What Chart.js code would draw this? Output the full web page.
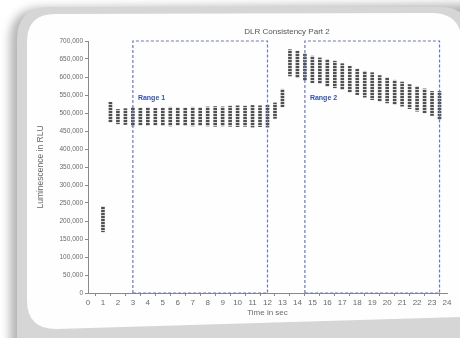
<!DOCTYPE html>
<html>
<head>
<meta charset="utf-8">
<script src="https://cdn.jsdelivr.net/npm/chart.js@4.4.1/dist/chart.umd.min.js"></script>
<style>
  html, body { margin: 0; padding: 0; background: #ffffff; }
  #wrap { position: relative; width: 460px; height: 338px; overflow: hidden; }
  #frame { position: absolute; left: 0; top: 0; }
  #c { position: absolute; left: 0; top: 0; }
</style>
</head>
<body>
<div id="wrap">
  <svg id="frame" width="460" height="338" viewBox="0 0 460 338">
    <defs>
      <filter id="blur" x="-20%" y="-20%" width="140%" height="140%">
        <feGaussianBlur stdDeviation="5"/>
      </filter>
    </defs>
    <rect x="0" y="0" width="460" height="338" fill="#ffffff"/>
    <path d="M 44 8 L 470 4 L 470 350 L 10 350 L 10 40 Q 10 8 44 8 Z" fill="#b5b5b5" filter="url(#blur)"/>
    <path d="M 50 7 L 440 7 Q 470 7 470 37 L 470 350 L 17 350 L 17 40 Q 17 7 50 7 Z" fill="#d6d6d6"/>
    <path d="M 55 14 L 432 13 Q 458 13 462 38 L 462 317 L 56 329 Q 27 329 27 300 L 27 42 Q 27 14 55 14 Z" fill="#fefefe"/>
  </svg>
  <canvas id="c" width="460" height="338"></canvas>
</div>
<script>
// ---- data ----
const times = [1, 1.5, 2, 2.5, 3, 3.5, 4, 4.5, 5, 5.5, 6, 6.5, 7, 7.5, 8, 8.5, 9, 9.5, 10, 10.5, 11, 11.5, 12, 12.5,
               13, 13.5, 14, 14.5, 15, 15.5, 16, 16.5, 17, 17.5, 18, 18.5, 19, 19.5, 20, 20.5, 21, 21.5, 22, 22.5, 23, 23.5];
const lowValues = [170000, 475000, 470000, 468000, 464000, 466000, 465000, 466000, 465000, 464000, 466000, 465000,
                   464000, 465000, 464000, 463000, 464000, 463000, 462000, 463000, 461000, 462000, 461000, 485000,
                   517000, 603000, 598000, 590000, 584000, 582000, 574000, 570000, 565000, 558000, 551000, 544000,
                   537000, 533000, 528000, 524000, 519000, 512000, 505000, 500000, 493000, 482000];
const highValues = [240000, 530000, 510000, 512000, 516000, 514000, 515000, 513000, 514000, 516000, 515000, 514000,
                    516000, 515000, 517000, 518000, 517000, 519000, 520000, 519000, 521000, 520000, 522000, 528000,
                    566000, 676000, 672000, 665000, 658000, 653000, 649000, 644000, 637000, 630000, 622000, 616000,
                    612000, 604000, 598000, 591000, 586000, 579000, 574000, 567000, 560000, 560000];
const range1 = [3, 12];
const range2 = [14.5, 23.5];
const rangeTop = 700000;
const rangeLabels = ['Range 1', 'Range 2'];
const xTickRange = [0, 24];
const yTickRange = [0, 700000];
const yTickStep = 50000;
const chartTitle = 'DLR Consistency Part 2';
const xTitle = 'Time in sec';
const yTitle = 'Luminescence in RLU';

// ---- build ----
const pc = document.createElement('canvas');
pc.width = 3; pc.height = 3;
const pctx = pc.getContext('2d');
pctx.fillStyle = '#d2d2d2'; pctx.fillRect(0, 0, 3, 3);
pctx.fillStyle = '#505050'; pctx.fillRect(0, 0, 3, 2);
const stripe = document.getElementById('c').getContext('2d').createPattern(pc, 'repeat');

const columnData = times.map((t, i) => ({ x: t, y: [lowValues[i], highValues[i]] }));
function box(r) {
  return [{ x: r[0], y: 0 }, { x: r[0], y: rangeTop }, { x: r[1], y: rangeTop }, { x: r[1], y: 0 }, { x: r[0], y: 0 }];
}

const FONT = "'Liberation Sans', 'DejaVu Sans', sans-serif";
const TXT = '#6a6a6a';

const annot = {
  id: 'annot',
  afterDatasetsDraw(chart) {
    const { ctx, scales: { x, y } } = chart;
    ctx.save();
    ctx.fillStyle = '#3553a6';
    ctx.font = "bold 7px " + FONT;
    ctx.textBaseline = 'middle';
    ctx.textAlign = 'left';
    ctx.fillText(rangeLabels[0], x.getPixelForValue(range1[0]) + 5, y.getPixelForValue(541000));
    ctx.fillText(rangeLabels[1], x.getPixelForValue(range2[0]) + 5, y.getPixelForValue(541000));
    ctx.fillStyle = '#555555';
    ctx.font = "8px " + FONT;
    ctx.textAlign = 'center';
    ctx.fillText(chartTitle, 287, 32);
    ctx.restore();
  }
};

new Chart(document.getElementById('c'), {
  type: 'bar',
  data: {
    datasets: [
      {
        type: 'bar',
        data: columnData,
        backgroundColor: stripe,
        borderWidth: 0,
        barThickness: 3,
        order: 2
      },
      {
        type: 'line',
        data: box(range1),
        borderColor: '#6b78b8',
        borderWidth: 1.2,
        borderDash: [3, 2],
        pointRadius: 0,
        fill: false,
        tension: 0,
        clip: 5,
        order: 1
      },
      {
        type: 'line',
        data: box(range2),
        borderColor: '#6b78b8',
        borderWidth: 1.2,
        borderDash: [3, 2],
        pointRadius: 0,
        fill: false,
        tension: 0,
        clip: 5,
        order: 1
      }
    ]
  },
  options: {
    responsive: false,
    animation: false,
    events: [],
    layout: { padding: { left: 36, top: 41, right: 13, bottom: 20 } },
    plugins: { legend: { display: false }, tooltip: { enabled: false }, title: { display: false } },
    scales: {
      x: {
        type: 'linear',
        min: xTickRange[0],
        max: xTickRange[1],
        offset: false,
        border: { color: '#8a8a8a', width: 1 },
        grid: { drawOnChartArea: false, drawTicks: true, tickLength: 3, color: '#8a8a8a' },
        ticks: { stepSize: 1, autoSkip: false, maxRotation: 0, padding: 2, color: TXT, font: { family: FONT, size: 8 } },
        title: { display: true, text: xTitle, color: TXT, font: { family: FONT, size: 8 }, padding: 0 },
        afterFit(s) { s.height = 25; }
      },
      y: {
        min: yTickRange[0],
        max: yTickRange[1],
        border: { color: '#8a8a8a', width: 1 },
        grid: { drawOnChartArea: false, drawTicks: true, tickLength: 3, color: '#8a8a8a' },
        ticks: {
          stepSize: yTickStep, padding: 2, color: TXT, font: { family: FONT, size: 6.5 },
          callback: v => v.toLocaleString('en-US')
        },
        title: { display: true, text: yTitle, color: TXT, font: { family: FONT, size: 8.5 }, padding: 0 },
        afterFit(s) { s.width = 52; }
      }
    }
  },
  plugins: [annot]
});
</script>
</body>
</html>
